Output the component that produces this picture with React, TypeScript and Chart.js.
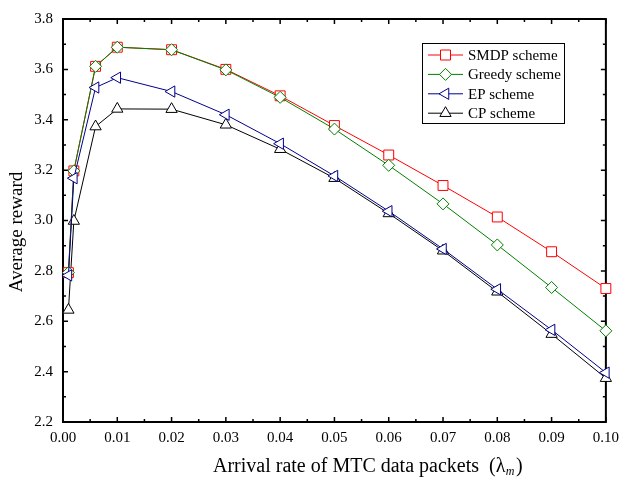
import React, { useEffect, useRef } from "react";
import { Chart, registerables } from "chart.js";

Chart.register(...registerables);

const xValues = [0.001, 0.002, 0.006, 0.01, 0.02, 0.03, 0.04, 0.05, 0.06, 0.07, 0.08, 0.09, 0.1];
const smdp = [2.793, 3.197, 3.612, 3.688, 3.678, 3.6, 3.495, 3.377, 3.26, 3.139, 3.014, 2.876, 2.73];
const greedy = [2.793, 3.197, 3.612, 3.688, 3.678, 3.598, 3.489, 3.363, 3.219, 3.066, 2.903, 2.734, 2.562];
const ep = [2.782, 3.168, 3.528, 3.567, 3.512, 3.42, 3.305, 3.177, 3.037, 2.887, 2.727, 2.566, 2.396];
const cp = [2.645, 2.998, 3.373, 3.443, 3.442, 3.38, 3.283, 3.168, 3.028, 2.88, 2.717, 2.549, 2.374];
const seriesNames = ["SMDP scheme", "Greedy scheme", "EP scheme", "CP scheme"];
const seriesColors = ["#ff0000", "#008000", "#00008b", "#000000"];
const yTitle = "Average reward";
const xTitleMain = "Arrival rate of MTC data packets  (λ";
const xTitleSub = "m";
const xTitleEnd = ")";

const FONT = "'Liberation Serif', 'Times New Roman', 'DejaVu Serif', serif";

function drawMarker(ctx: CanvasRenderingContext2D, kind: number, x: number, y: number, color: string) {
  ctx.save();
  ctx.beginPath();
  if (kind === 0) {
    const s = 5;
    ctx.rect(x - s, y - s, 2 * s, 2 * s);
  } else if (kind === 1) {
    const r = 6;
    ctx.moveTo(x, y - r);
    ctx.lineTo(x + r, y);
    ctx.lineTo(x, y + r);
    ctx.lineTo(x - r, y);
    ctx.closePath();
  } else if (kind === 2) {
    const r = 6.5;
    ctx.moveTo(x - r, y);
    ctx.lineTo(x + r / 2, y - r * 0.866);
    ctx.lineTo(x + r / 2, y + r * 0.866);
    ctx.closePath();
  } else {
    const r = 6.5;
    ctx.moveTo(x, y - r);
    ctx.lineTo(x + r * 0.866, y + r / 2);
    ctx.lineTo(x - r * 0.866, y + r / 2);
    ctx.closePath();
  }
  ctx.fillStyle = "#ffffff";
  ctx.fill();
  ctx.strokeStyle = color;
  ctx.lineWidth = 1;
  ctx.stroke();
  ctx.restore();
}

const framePlugin = {
  id: "frameTicks",
  beforeDatasetsDraw(chart: any) {
    const { ctx, chartArea } = chart;
    const { left, right, top, bottom } = chartArea;
    const xs = chart.scales.x;
    const ys = chart.scales.y;
    ctx.save();
    ctx.strokeStyle = "#000";
    ctx.lineWidth = 1.5;
    const xt = xs.ticks.map((t: any) => t.value);
    ctx.beginPath();
    for (let i = 0; i < xt.length; i++) {
      const px = xs.getPixelForValue(xt[i]);
      ctx.moveTo(px, bottom);
      ctx.lineTo(px, bottom - 5);
      ctx.moveTo(px, top);
      ctx.lineTo(px, top + 5);
      if (i < xt.length - 1) {
        const pm = xs.getPixelForValue((xt[i] + xt[i + 1]) / 2);
        ctx.moveTo(pm, bottom);
        ctx.lineTo(pm, bottom - 3);
        ctx.moveTo(pm, top);
        ctx.lineTo(pm, top + 3);
      }
    }
    const yt = ys.ticks.map((t: any) => t.value);
    for (let i = 0; i < yt.length; i++) {
      const py = ys.getPixelForValue(yt[i]);
      ctx.moveTo(left, py);
      ctx.lineTo(left + 5, py);
      ctx.moveTo(right, py);
      ctx.lineTo(right - 5, py);
      if (i < yt.length - 1) {
        const pm = ys.getPixelForValue((yt[i] + yt[i + 1]) / 2);
        ctx.moveTo(left, pm);
        ctx.lineTo(left + 3, pm);
        ctx.moveTo(right, pm);
        ctx.lineTo(right - 3, pm);
      }
    }
    ctx.stroke();
    ctx.lineWidth = 2;
    ctx.strokeRect(left, top, right - left, bottom - top);
    ctx.restore();
  },
};

const titlePlugin = {
  id: "axisTitles",
  afterDraw(chart: any) {
    const { ctx } = chart;
    ctx.save();
    ctx.fillStyle = "#000";
    ctx.font = `19px ${FONT}`;
    ctx.translate(22, 232);
    ctx.rotate(-Math.PI / 2);
    ctx.textAlign = "center";
    ctx.textBaseline = "alphabetic";
    ctx.fillText(yTitle, 0, 0);
    ctx.restore();

    ctx.save();
    ctx.fillStyle = "#000";
    ctx.textAlign = "left";
    ctx.textBaseline = "alphabetic";
    ctx.font = `20px ${FONT}`;
    let x = 213;
    const base = 472;
    ctx.fillText(xTitleMain, x, base);
    x += ctx.measureText(xTitleMain).width;
    ctx.font = `italic 12px ${FONT}`;
    ctx.fillText(xTitleSub, x + 0.5, base + 3);
    x += ctx.measureText(xTitleSub).width + 2;
    ctx.font = `20px ${FONT}`;
    ctx.fillText(xTitleEnd, x, base);
    ctx.restore();
  },
};

const legendPlugin = {
  id: "boxLegend",
  afterDraw(chart: any) {
    const { ctx } = chart;
    const bx = 422;
    const by = 43;
    const bw = 142;
    const bh = 80;
    ctx.save();
    ctx.fillStyle = "#fff";
    ctx.fillRect(bx, by, bw, bh);
    ctx.strokeStyle = "#000";
    ctx.lineWidth = 1;
    ctx.strokeRect(bx + 0.5, by + 0.5, bw, bh);
    ctx.font = `15px ${FONT}`;
    ctx.textBaseline = "middle";
    ctx.textAlign = "left";
    for (let i = 0; i < seriesNames.length; i++) {
      const y = 55 + i * 19.4;
      ctx.strokeStyle = seriesColors[i];
      ctx.lineWidth = 1;
      ctx.beginPath();
      ctx.moveTo(428, y);
      ctx.lineTo(463, y);
      ctx.stroke();
      drawMarker(ctx, i, 445.5, y, seriesColors[i]);
      ctx.fillStyle = "#000";
      ctx.fillText(seriesNames[i], 468, y + 1);
    }
    ctx.restore();
  },
};

export default function App() {
  const ref = useRef<HTMLCanvasElement | null>(null);
  useEffect(() => {
    document.body.style.margin = "0";
    const canvas = ref.current;
    if (!canvas) return;
    const mk = (data: number[]) => data.map((v, i) => ({ x: xValues[i], y: v }));
    const chart = new Chart(canvas, {
      type: "line",
      data: {
        datasets: [
          {
            label: seriesNames[0],
            data: mk(smdp),
            borderColor: seriesColors[0],
            pointBorderColor: seriesColors[0],
            pointStyle: "rect",
            pointRadius: 7,
            order: 3,
          },
          {
            label: seriesNames[1],
            data: mk(greedy),
            borderColor: seriesColors[1],
            pointBorderColor: seriesColors[1],
            pointStyle: "rectRot",
            pointRadius: 6,
            order: 2,
          },
          {
            label: seriesNames[2],
            data: mk(ep),
            borderColor: seriesColors[2],
            pointBorderColor: seriesColors[2],
            pointStyle: "triangle",
            pointRotation: -90,
            pointRadius: 6.5,
            order: 1,
          },
          {
            label: seriesNames[3],
            data: mk(cp),
            borderColor: seriesColors[3],
            pointBorderColor: seriesColors[3],
            pointStyle: "triangle",
            pointRadius: 6.5,
            order: 4,
          },
        ].map((d) => ({
          ...d,
          backgroundColor: "#ffffff",
          borderWidth: 1,
          pointBorderWidth: 1,
          pointBackgroundColor: "#ffffff",
          tension: 0,
          clip: false as any,
        })),
      },
      options: {
        animation: false,
        responsive: false,
        maintainAspectRatio: false,
        layout: { padding: { top: 14, right: 16, left: 0, bottom: 0 } },
        plugins: { legend: { display: false }, tooltip: { enabled: false } },
        scales: {
          x: {
            type: "linear",
            min: 0,
            max: 0.1,
            grid: { display: false, drawTicks: false },
            border: { display: false },
            ticks: {
              stepSize: 0.01,
              padding: 7,
              color: "#000",
              font: { family: FONT, size: 15 },
              callback: (v: any) => Number(v).toFixed(2),
              maxRotation: 0,
              autoSkip: false,
            },
            title: { display: false },
            afterFit: (s: any) => {
              s.height = 58;
            },
          },
          y: {
            min: 2.2,
            max: 3.8,
            grid: { display: false, drawTicks: false },
            border: { display: false },
            ticks: {
              stepSize: 0.2,
              padding: 10,
              color: "#000",
              font: { family: FONT, size: 15 },
              callback: (v: any) => Number(v).toFixed(1),
            },
            title: { display: false },
            afterFit: (s: any) => {
              s.width = 63;
            },
          },
        },
      },
      plugins: [framePlugin, titlePlugin, legendPlugin],
    });
    return () => chart.destroy();
  }, []);
  return (
    <div style={{ width: 626, height: 480 }}>
      <canvas ref={ref} width={626} height={480} style={{ display: "block" }} />
    </div>
  );
}
